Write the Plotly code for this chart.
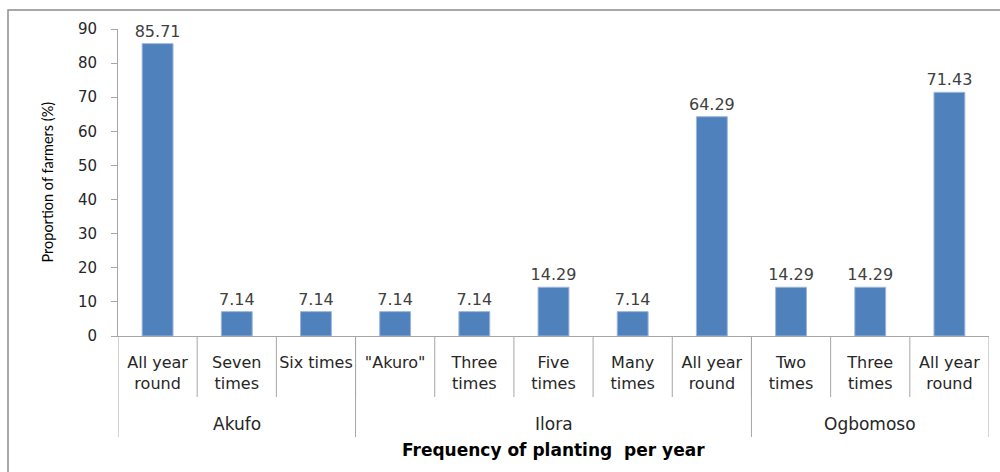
import plotly.graph_objects as go

# Planting frequency categories grouped by location
groups = ["Akufo", "Ilora", "Ogbomoso"]
group_sizes = [3, 5, 3]
subcategories = [
    "All year<br>round", "Seven<br>times", "Six times",
    "\"Akuro\"", "Three<br>times", "Five<br>times", "Many<br>times", "All year<br>round",
    "Two<br>times", "Three<br>times", "All year<br>round",
]
proportions = [85.71, 7.14, 7.14, 7.14, 7.14, 14.29, 7.14, 64.29, 14.29, 14.29, 71.43]

positions = list(range(len(proportions)))

W, H = 1000, 472
L, R, T, B = 118, 11, 29, 136
plot_w = W - L - R
plot_h = H - T - B


def px_x(p):
    return (p - L) / plot_w


def px_y(p):
    return (H - B - p) / plot_h


fig = go.Figure(
    go.Bar(
        x=positions,
        y=proportions,
        width=0.39,
        marker=dict(color="#4F81BD", line=dict(color="#9DB7DC", width=1)),
        text=[f"{v:.2f}" for v in proportions],
        textposition="outside",
        constraintext="none",
        textfont=dict(family="DejaVu Sans", size=16, color="#404040"),
        cliponaxis=False,
        hoverinfo="skip",
    )
)

shapes = []
# dividers between individual categories
n = len(proportions)
for i in range(1, n):
    shapes.append(dict(type="line", xref="x", yref="paper", x0=i - 0.5, x1=i - 0.5,
                       y0=0, y1=px_y(397), line=dict(color="#A6A6A6", width=1)))
# dividers bounding each location group
bounds = [-0.5]
for s in group_sizes:
    bounds.append(bounds[-1] + s)
for b in bounds:
    shapes.append(dict(type="line", xref="x", yref="paper", x0=b, x1=b,
                       y0=0, y1=px_y(437), line=dict(color="#A6A6A6", width=1)))
# outer chart frame
shapes.append(dict(type="rect", xref="paper", yref="paper",
                   x0=px_x(8), x1=px_x(1040), y0=px_y(520), y1=px_y(10),
                   line=dict(color="#8C8C8C", width=1.5), fillcolor="rgba(0,0,0,0)"))

annotations = []
for g, lo, hi in zip(groups, bounds[:-1], bounds[1:]):
    annotations.append(dict(text=g, xref="x", yref="paper", x=(lo + hi) / 2, y=px_y(424),
                            showarrow=False, yanchor="middle",
                            font=dict(family="DejaVu Sans", size=17, color="#262626")))
annotations.append(dict(text="<b>Frequency of planting  per year</b>", xref="paper", yref="paper",
                        x=0.5, y=px_y(450), showarrow=False, yanchor="middle",
                        font=dict(family="DejaVu Sans", size=17, color="#000000")))
annotations.append(dict(text="Proportion of farmers (%)", xref="paper", yref="paper",
                        x=px_x(47), y=0.5, textangle=-90, showarrow=False,
                        xanchor="center", yanchor="middle",
                        font=dict(family="Lato", size=14.5, color="#000000")))

fig.update_layout(
    width=W, height=H,
    margin=dict(l=L, r=R, t=T, b=B),
    paper_bgcolor="white", plot_bgcolor="white",
    showlegend=False,
    shapes=shapes,
    annotations=annotations,
    xaxis=dict(
        range=[-0.5, n - 0.5],
        tickmode="array", tickvals=positions, ticktext=subcategories,
        ticks="", showgrid=False, zeroline=False,
        showline=True, linecolor="#A6A6A6", linewidth=1,
        tickfont=dict(family="DejaVu Sans", size=16, color="#262626"),
        ticklabelstandoff=12,
    ),
    yaxis=dict(
        range=[0, 90], dtick=10,
        ticks="outside", ticklen=6, tickcolor="#A6A6A6",
        showgrid=False, zeroline=False,
        showline=True, linecolor="#A6A6A6", linewidth=1,
        tickfont=dict(family="DejaVu Sans", size=15, color="#262626"),
        ticklabelstandoff=11,
    ),
)

fig.write_html("out.html")
